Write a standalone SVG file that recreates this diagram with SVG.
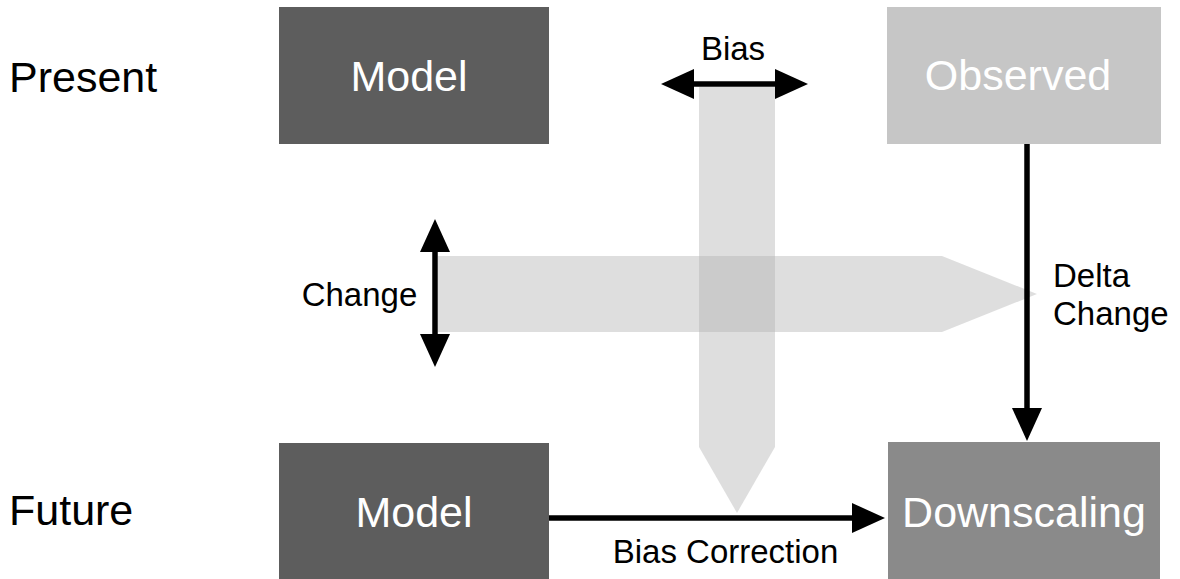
<svg xmlns="http://www.w3.org/2000/svg" width="1180" height="579" viewBox="0 0 1180 579">
  <style>
    .lbl { font-family: "Liberation Sans", Arial, sans-serif; fill: #000; }
    .big { font-size: 43px; }
    .small { font-size: 33px; }
    .box-text { font-family: "Liberation Sans", Arial, sans-serif; font-size: 43px; fill: #fff; text-anchor: middle; }
    .band { fill: #b4b4b4; fill-opacity: 0.44; }
    .arrow { stroke: #000; stroke-width: 5.5; fill: none; }
  </style>
  <defs>
    <marker id="head" viewBox="0 0 33 30" refX="10" refY="15" markerWidth="33" markerHeight="30" markerUnits="userSpaceOnUse" orient="auto-start-reverse">
      <path d="M0,0 L33,15 L0,30 z" fill="#000"/>
    </marker>
  </defs>

  <rect width="1180" height="579" fill="#fff"/>

  <!-- row labels -->
  <text class="lbl big" x="9" y="92">Present</text>
  <text class="lbl big" x="9" y="525">Future</text>

  <!-- broad translucent flows -->
  <g id="flows">
    <polygon class="band" points="438,256 942,256 1037,294 942,332 438,332"/>
    <polygon class="band" points="699,87 775,87 775,447 737,513 699,447"/>
  </g>

  <g id="model-present">
    <rect x="279" y="7" width="270" height="137" fill="#5d5d5d"/>
    <text class="box-text" x="409" y="91">Model</text>
  </g>

  <g id="observed">
    <rect x="887" y="7" width="274" height="137" fill="#c6c6c6"/>
    <text class="box-text" x="1018" y="90">Observed</text>
  </g>

  <g id="model-future">
    <rect x="279" y="443" width="270" height="136" fill="#5d5d5d"/>
    <text class="box-text" x="414" y="527">Model</text>
  </g>

  <g id="downscaling">
    <rect x="888" y="442" width="272" height="137" fill="#8a8a8a"/>
    <text class="box-text" x="1024" y="527">Downscaling</text>
  </g>

  <g id="connectors">
    <line class="arrow" x1="684" y1="84" x2="785" y2="84" marker-start="url(#head)" marker-end="url(#head)"/>
    <line class="arrow" x1="435" y1="242" x2="435" y2="344" marker-start="url(#head)" marker-end="url(#head)"/>
    <line class="arrow" x1="1027" y1="144" x2="1027" y2="418" marker-end="url(#head)"/>
    <line class="arrow" x1="549" y1="518" x2="862" y2="518" marker-end="url(#head)"/>
  </g>

  <!-- connector labels -->
  <text class="lbl small" x="733" y="60" text-anchor="middle">Bias</text>
  <text class="lbl small" x="359.5" y="306" text-anchor="middle">Change</text>
  <text class="lbl small" x="1053" y="287">Delta</text>
  <text class="lbl small" x="1053" y="325">Change</text>
  <text class="lbl small" x="725.5" y="563" text-anchor="middle">Bias Correction</text>
</svg>
